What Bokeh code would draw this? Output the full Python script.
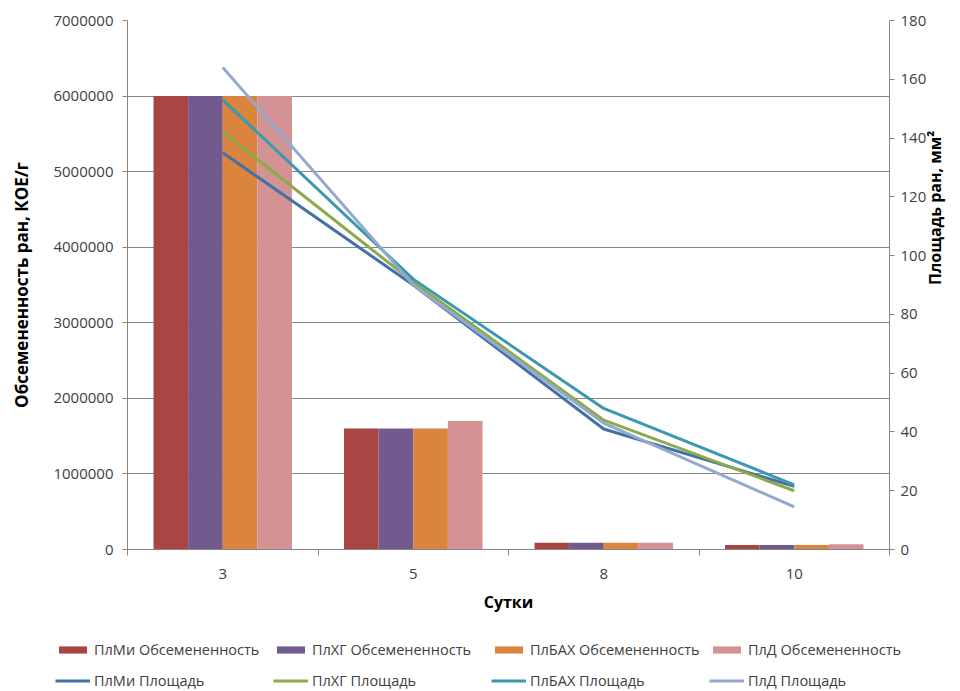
import math

from bokeh.plotting import figure
from bokeh.layouts import column
from bokeh.models import (Range1d, LinearAxis, FixedTicker, Legend, LegendItem,
                          ColumnDataSource, NumeralTickFormatter)
from bokeh.embed import file_html
from bokeh.resources import INLINE

# Days of observation
days = ["3", "5", "8", "10"]

# Wound contamination, CFU/g (left axis, bars)
plmi_cfu = [6000000, 1600000, 90000, 60000]
plhg_cfu = [6000000, 1600000, 90000, 60000]
plbah_cfu = [6000000, 1600000, 90000, 60000]
pld_cfu = [6000000, 1700000, 90000, 70000]

# Wound area, mm² (right axis, lines)
plmi_area = [135, 90, 41, 21.5]
plhg_area = [142, 91, 44, 20]
plbah_area = [153, 92, 48, 22]
pld_area = [164, 90, 43, 14.5]

left_ticks = [0, 1000000, 2000000, 3000000, 4000000, 5000000, 6000000, 7000000]
right_ticks = [0, 20, 40, 60, 80, 100, 120, 140, 160, 180]

FONT = "Open Sans"
AXIS_GREY = "#868686"
TEXT = "#404040"

series = [
    ("ПлМи", plmi_cfu, plmi_area, "#A94543", "#4470A8"),
    ("ПлХГ", plhg_cfu, plhg_area, "#725A8E", "#8CAA4A"),
    ("ПлБАХ", plbah_cfu, plbah_area, "#DB843D", "#3B98AE"),
    ("ПлД", pld_cfu, pld_area, "#D39394", "#93A9CF"),
]

centers = [i + 0.5 for i in range(len(days))]
bar_w = 0.1817
offsets = [-1.5 * bar_w, -0.5 * bar_w, 0.5 * bar_w, 1.5 * bar_w]

W = 960
MAIN_H = 631
LEG_H = 60

p = figure(width=W, height=MAIN_H, output_backend="svg", toolbar_location=None,
           x_range=Range1d(0, len(days)), y_range=Range1d(0, 7000000),
           min_border_left=127, min_border_right=67, min_border_top=20,
           min_border_bottom=82)
p.outline_line_color = None
p.background_fill_color = "white"
p.border_fill_color = "white"
p.frame_align = False

# Left axis
left_ticker = FixedTicker(ticks=left_ticks)
yax = p.yaxis[0]
yax.ticker = left_ticker
yax.formatter = NumeralTickFormatter(format="0")
yax.axis_label = "Обсемененность ран, КОЕ/г"
p.ygrid.ticker = left_ticker
p.ygrid.grid_line_color = AXIS_GREY
p.xgrid.grid_line_color = None

# Category axis: labels at centers, tick marks on the category boundaries
xax = p.xaxis[0]
xax.ticker = FixedTicker(ticks=centers, minor_ticks=list(range(len(days) + 1)))
xax.major_label_overrides = {c: d for c, d in zip(centers, days)}
xax.major_tick_out = 0
xax.major_tick_in = 0
xax.minor_tick_out = 6
xax.minor_tick_in = 0
xax.axis_label = "Сутки"

# Right axis for wound area
p.extra_y_ranges = {"area": Range1d(0, 180)}
rax = LinearAxis(y_range_name="area", ticker=FixedTicker(ticks=right_ticks),
                 axis_label="Площадь ран, мм²")
p.add_layout(rax, "right")

for ax in [xax, yax, rax]:
    ax.axis_line_color = AXIS_GREY
    ax.major_tick_line_color = AXIS_GREY
    ax.minor_tick_line_color = AXIS_GREY
    ax.major_label_text_font = FONT
    ax.major_label_text_font_size = "15px"
    ax.major_label_text_color = TEXT
    ax.axis_label_text_font = FONT
    ax.axis_label_text_font_size = "16px"
    ax.axis_label_text_font_style = "bold"
    ax.axis_label_text_color = "black"
for ax in [yax, rax]:
    ax.major_tick_out = 5
    ax.major_tick_in = 0
    ax.minor_tick_out = 0
    ax.minor_tick_in = 0
yax.major_label_standoff = 9
rax.major_label_standoff = 6
yax.axis_label_text_font_size = "17px"
yax.axis_label_standoff = 17
rax.axis_label_standoff = 6
rax.axis_label_orientation = math.pi / 2
xax.major_label_standoff = 13
xax.axis_label_standoff = 9

for (name, cfu, area, bar_col, line_col), off in zip(series, offsets):
    src = ColumnDataSource(dict(x=[c + off for c in centers], top=cfu))
    p.vbar(x="x", top="top", width=bar_w, source=src,
           fill_color=bar_col, line_color=None)
for (name, cfu, area, bar_col, line_col) in series:
    src = ColumnDataSource(dict(x=centers, y=area))
    p.line(x="x", y="y", source=src, y_range_name="area",
           line_color=line_col, line_width=3)

# Legend strip below the chart: bars on the first row, lines on the second.
# The key renderers hold no drawable points; they only style the swatches.
lg = figure(width=W, height=LEG_H, output_backend="svg", toolbar_location=None,
            x_range=Range1d(0, W), y_range=Range1d(0, LEG_H), min_border=0,
            x_axis_type=None, y_axis_type=None)
lg.outline_line_color = None
lg.grid.grid_line_color = None
lg.frame_align = False

nan = float("nan")
bar_keys = [lg.vbar(x=[nan], top=[nan], width=1, fill_color=s[3], line_color=None)
            for s in series]
line_keys = [lg.line(x=[nan], y=[nan], line_color=s[4], line_width=3)
             for s in series]

common = dict(orientation="horizontal", glyph_width=35, glyph_height=9,
              label_standoff=4, spacing=0, padding=0, margin=0,
              label_width=179, label_height=20, border_line_color=None,
              background_fill_alpha=0, label_text_font=FONT,
              label_text_font_size="14.5px", label_text_color=TEXT)
row1 = Legend(items=[LegendItem(label=f"{s[0]} Обсемененность", renderers=[r])
                     for s, r in zip(series, bar_keys)],
              location=(55, 32), **common)
row2 = Legend(items=[LegendItem(label=f"{s[0]} Площадь", renderers=[r])
                     for s, r in zip(series, line_keys)],
              location=(55, 1), **common)
lg.add_layout(row1, "center")
lg.add_layout(row2, "center")

open("out.html", "w").write(file_html(column(p, lg, spacing=0), INLINE))
